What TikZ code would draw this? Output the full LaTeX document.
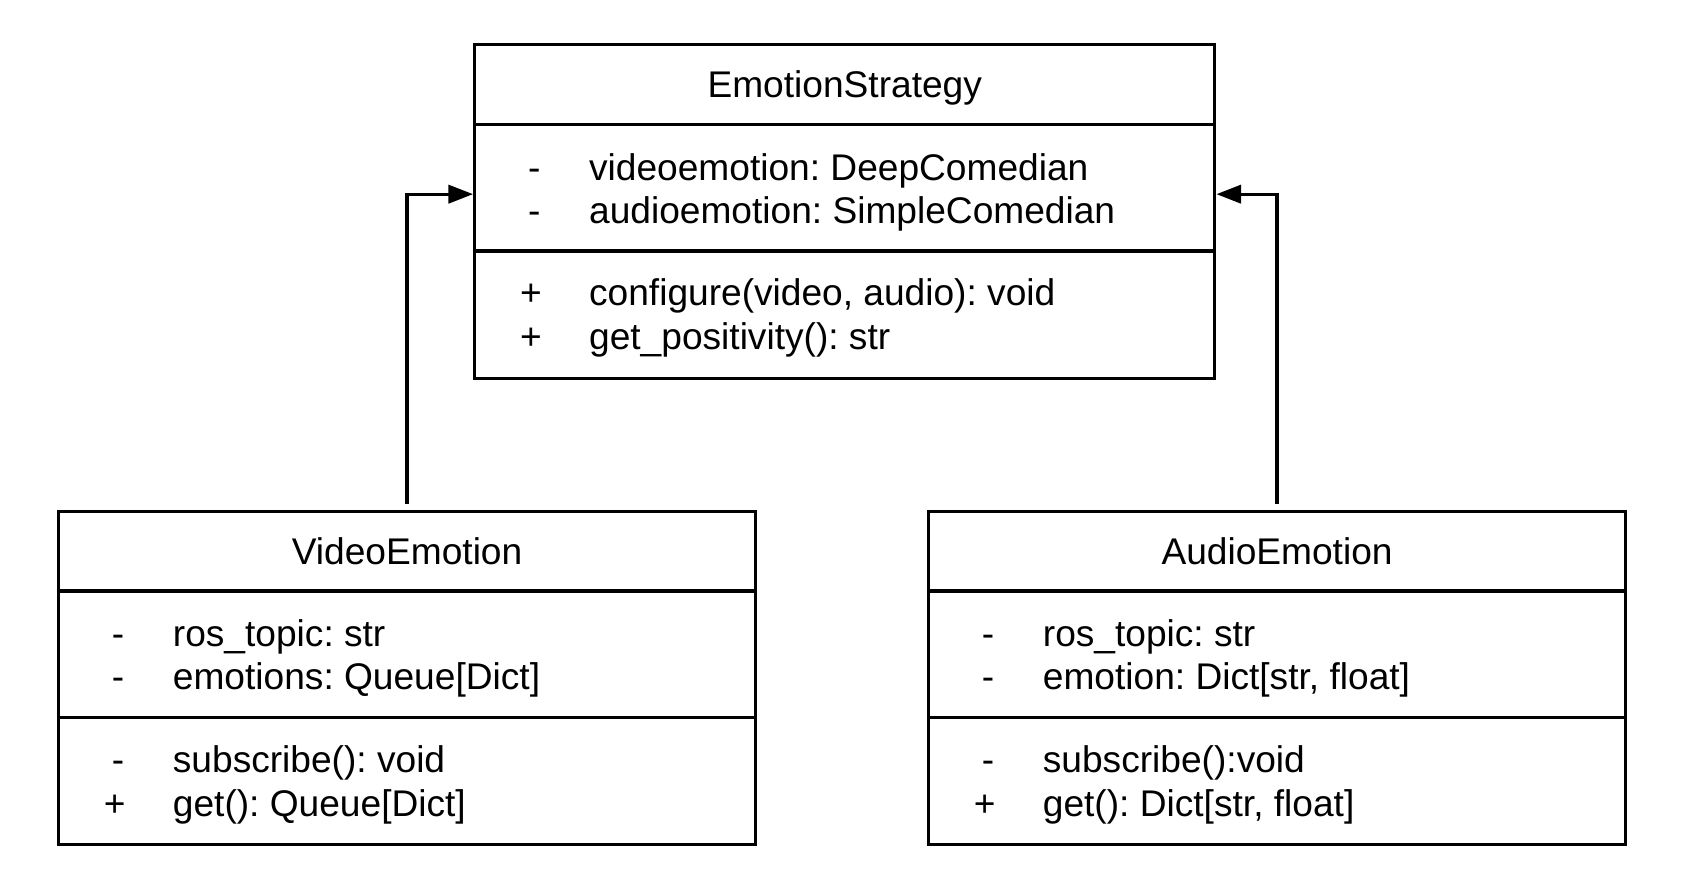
\documentclass[tikz,border=0pt]{standalone}
\usepackage{fontspec}
\setmainfont{Liberation Sans}
\usetikzlibrary{positioning, calc, arrows.meta}

\tikzset{
	classbox/.style={draw, line width=3pt, minimum height=311pt, anchor=north west, inner sep=0pt},
	sign/.style={anchor=base, inner sep=0pt},
	member/.style={anchor=base west, inner sep=0pt},
	inherit/.style={line width=3pt, -{Triangle[length=23pt, width=17pt]}, shorten <=5pt}
}

\begin{document}
\begin{tikzpicture}[x=1pt, y=-1pt, every node/.style={font=\fontsize{34.6}{40}\selectfont\frenchspacing}]
			\useasboundingbox (0,0) rectangle (1568,820);
			
			\node[classbox, minimum width=690pt] (strategy) at (441,40) {};
			\node[classbox, minimum width=650pt] (video) at (53,475) {};
			\node[classbox, minimum width=650pt] (audio) at (864,475) {};
			
			\foreach \b in {strategy, video, audio}
			{
			\draw[line width=3pt] ($(\b.north west)+(0,76)$) -- ($(\b.north east)+(0,76)$);
			\draw[line width=3pt] ($(\b.north west)+(0,194)$) -- ($(\b.north east)+(0,194)$);
			}
			
			\node[anchor=base, inner sep=0pt] (strategytitle) at ($(strategy.north)+(0,51)$) {EmotionStrategy};
			\node[sign] (s1) at ($(strategy.north west)+(57,128)$) {-};
			\node[sign] (s2) at ($(strategy.north west)+(57,168)$) {-};
			\node[sign] (s3) at ($(strategy.north west)+(54,245)$) {+};
			\node[sign] (s4) at ($(strategy.north west)+(54,286)$) {+};
			\node[member] (m1) at ($(strategy.north west)+(108,128)$) {videoemotion: DeepComedian};
			\node[member] (m2) at ($(strategy.north west)+(108,168)$) {audioemotion: SimpleComedian};
			\node[member] (m3) at ($(strategy.north west)+(108,245)$) {configure(video, audio): void};
			\node[member] (m4) at ($(strategy.north west)+(108,286)$) {get\_positivity(): str};
			
			\node[anchor=base, inner sep=0pt] (videotitle) at ($(video.north)+(0,51)$) {VideoEmotion};
			\node[sign] (v1) at ($(video.north west)+(57,128)$) {-};
			\node[sign] (v2) at ($(video.north west)+(57,168)$) {-};
			\node[sign] (v3) at ($(video.north west)+(57,245)$) {-};
			\node[sign] (v4) at ($(video.north west)+(54,286)$) {+};
			\node[member] (vm1) at ($(video.north west)+(108,128)$) {ros\_topic: str};
			\node[member] (vm2) at ($(video.north west)+(108,168)$) {emotions: Queue[Dict]};
			\node[member] (vm3) at ($(video.north west)+(108,245)$) {subscribe(): void};
			\node[member] (vm4) at ($(video.north west)+(108,286)$) {get(): Queue[Dict]};
			
			\node[anchor=base, inner sep=0pt] (audiotitle) at ($(audio.north)+(0,51)$) {AudioEmotion};
			\node[sign] (a1) at ($(audio.north west)+(57,128)$) {-};
			\node[sign] (a2) at ($(audio.north west)+(57,168)$) {-};
			\node[sign] (a3) at ($(audio.north west)+(57,245)$) {-};
			\node[sign] (a4) at ($(audio.north west)+(54,286)$) {+};
			\node[member] (am1) at ($(audio.north west)+(108,128)$) {ros\_topic: str};
			\node[member] (am2) at ($(audio.north west)+(108,168)$) {emotion: Dict[str, float]};
			\node[member] (am3) at ($(audio.north west)+(108,245)$) {subscribe():void};
			\node[member] (am4) at ($(audio.north west)+(108,286)$) {get(): Dict[str, float]};
			
			\coordinate (inleft) at ($(strategy.north west)+(0,141)$);
			\coordinate (inright) at ($(strategy.north east)+(0,141)$);
			\draw[inherit] (video.north) |- (inleft);
			\draw[inherit] (audio.north) |- (inright);
			
			\end{tikzpicture}
\end{document}
